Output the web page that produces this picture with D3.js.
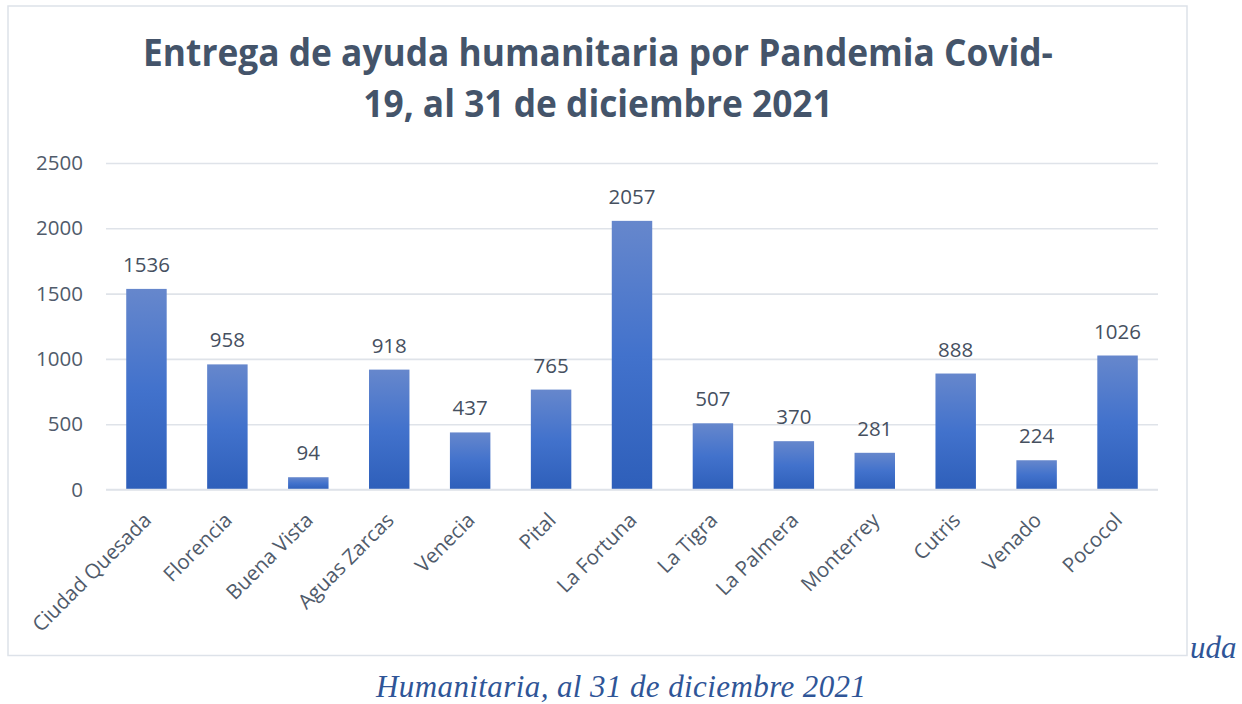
<!DOCTYPE html>
<html>
<head>
<meta charset="utf-8">
<script src="https://cdn.jsdelivr.net/npm/d3@7"></script>
<style>
  html, body { margin: 0; padding: 0; background: #ffffff; }
  svg { display: block; }
</style>
</head>
<body>
<svg id="chart" width="1242" height="704"></svg>
<script>
const categories = ["Ciudad Quesada", "Florencia", "Buena Vista", "Aguas Zarcas", "Venecia", "Pital",
  "La Fortuna", "La Tigra", "La Palmera", "Monterrey", "Cutris", "Venado", "Pococol"];
const values = [1536, 958, 94, 918, 437, 765, 2057, 507, 370, 281, 888, 224, 1026];
const yTicks = [0, 500, 1000, 1500, 2000, 2500];
const titleLines = ["Entrega de ayuda humanitaria por Pandemia Covid-", "19, al 31 de diciembre 2021"];
const captionTail = "uda";
const captionLine = "Humanitaria, al 31 de diciembre 2021";

const svg = d3.select("#chart");
const W = 1242, H = 704;
const frame = { x: 8, y: 6, w: 1179, h: 649.5 };
const plot = { left: 106, right: 1158, top: 163, bottom: 489.5 };

const defs = svg.append("defs");
const grad = defs.append("linearGradient").attr("id", "barGrad")
  .attr("x1", 0).attr("y1", 0).attr("x2", 0).attr("y2", 1);
grad.append("stop").attr("offset", "0%").attr("stop-color", "#6687cc");
grad.append("stop").attr("offset", "50%").attr("stop-color", "#4272cc");
grad.append("stop").attr("offset", "100%").attr("stop-color", "#2e5fba");

// chart frame
svg.append("rect")
  .attr("x", frame.x).attr("y", frame.y).attr("width", frame.w).attr("height", frame.h)
  .attr("fill", "#ffffff").attr("stroke", "#dde2e9").attr("stroke-width", 1.5);

const x = d3.scaleBand().domain(categories).range([plot.left, plot.right]).paddingInner(0.5).paddingOuter(0.25);
const y = d3.scaleLinear().domain([0, 2500]).range([plot.bottom, plot.top]);

// gridlines
const yAxis = d3.axisLeft(y).tickValues(yTicks).tickSize(-(plot.right - plot.left)).tickPadding(23).tickFormat(d3.format("d"));
const gy = svg.append("g").attr("transform", `translate(${plot.left},0)`).call(yAxis);
gy.select(".domain").remove();
gy.selectAll(".tick line").attr("stroke", "#dfe3e9").attr("stroke-width", 1.6);
gy.selectAll(".tick text")
  .attr("font-family", "'Open Sans', sans-serif").attr("font-size", "20.5px")
  .attr("fill", "#505b6b");

// bars
svg.append("g").selectAll("rect").data(values).join("rect")
  .attr("x", (d, i) => x(categories[i]))
  .attr("y", d => y(d))
  .attr("width", x.bandwidth())
  .attr("height", d => y(0) - y(d))
  .attr("fill", "url(#barGrad)");

// baseline axis
const xAxis = d3.axisBottom(x).tickSize(0).tickPadding(0);
const gx = svg.append("g").attr("transform", `translate(0,${plot.bottom})`).call(xAxis);
gx.select(".domain").attr("stroke", "#dfe3e9").attr("stroke-width", 1.6)
  .attr("d", `M${plot.left},0H${plot.right}`);
gx.selectAll(".tick text")
  .attr("font-family", "'Open Sans', sans-serif").attr("font-size", "20.5px")
  .attr("fill", "#505b6b")
  .attr("text-anchor", "end")
  .attr("dy", 0).attr("y", 0)
  .attr("transform", "translate(6,32) rotate(-45)");

// data labels
svg.append("g").selectAll("text").data(values).join("text")
  .attr("x", (d, i) => x(categories[i]) + x.bandwidth() / 2)
  .attr("y", d => y(d) - 17)
  .attr("text-anchor", "middle")
  .attr("font-family", "'Open Sans', sans-serif").attr("font-size", "20.5px")
  .attr("fill", "#46505f")
  .text(d => d);

// title
const tg = svg.append("g");
const t1 = tg.append("text").attr("x", 0).attr("y", 66).attr("text-anchor", "middle")
  .attr("font-family", "'Open Sans', sans-serif").attr("font-weight", "bold").attr("font-size", "37px")
  .attr("fill", "#44546a").text(titleLines[0]);
tg.append("text").attr("x", 0).attr("y", 117).attr("text-anchor", "middle")
  .attr("font-family", "'Open Sans', sans-serif").attr("font-weight", "bold").attr("font-size", "37px")
  .attr("fill", "#44546a").text(titleLines[1]);
const w1 = t1.node().getComputedTextLength();
const s = 910 / w1;
tg.attr("transform", `translate(598,0) scale(${s},1)`);

// caption (document text around the chart)
svg.append("text").attr("x", 1190).attr("y", 658)
  .attr("font-family", "'Liberation Serif', 'Times New Roman', serif").attr("font-style", "italic")
  .attr("font-size", "31px").attr("fill", "#2f5597").text(captionTail);
svg.append("text").attr("x", 621).attr("y", 697).attr("text-anchor", "middle")
  .attr("font-family", "'Liberation Serif', 'Times New Roman', serif").attr("font-style", "italic")
  .attr("font-size", "31px").attr("textLength", 490).attr("lengthAdjust", "spacing")
  .attr("fill", "#2f5597").text(captionLine);
</script>
</body>
</html>
